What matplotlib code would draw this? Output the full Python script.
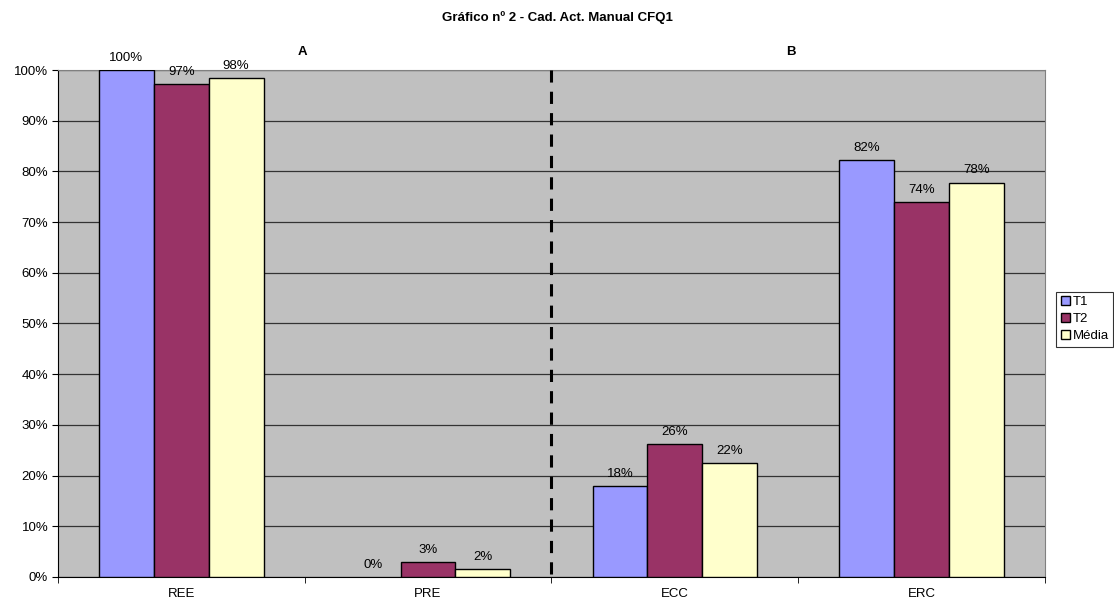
import numpy as np
import matplotlib.pyplot as plt

plt.rcParams['font.family'] = ['Liberation Sans', 'DejaVu Sans']

categories = ["REE", "PRE", "ECC", "ERC"]
t1 = [1.00, 0.00, 0.180, 0.822]
t2 = [0.972, 0.030, 0.262, 0.740]
media = [0.984, 0.016, 0.224, 0.778]
labels_t1 = ["100%", "0%", "18%", "82%"]
labels_t2 = ["97%", "3%", "26%", "74%"]
labels_media = ["98%", "2%", "22%", "78%"]
series_names = ["T1", "T2", "Média"]
colors = ["#9999FF", "#993366", "#FFFFCC"]

fig = plt.figure(figsize=(11.14, 6.01), dpi=100)
ax = fig.add_axes([0.052, 0.040, 0.886, 0.8435])
ax.set_facecolor("#C0C0C0")

x = np.arange(len(categories))
w = 1 / 4.5
series = [t1, t2, media]
labs = [labels_t1, labels_t2, labels_media]
for k, (vals, lab) in enumerate(zip(series, labs)):
    pos = x + (k - 1) * w
    lw = [1.0 if v > 0 else 0 for v in vals]
    ax.bar(pos, vals, width=w, color=colors[k], edgecolor="black", linewidth=lw,
           label=series_names[k], zorder=3)
    for p, v, s in zip(pos, vals, lab):
        ax.text(p, v + 0.012, s, ha="center", va="bottom", fontsize=9.5, zorder=4)

ax.set_xlim(-0.5, 3.5)
ax.set_ylim(0, 1)
ax.set_yticks(np.arange(0, 1.01, 0.1))
ax.set_yticklabels([f"{int(round(v*100))}%" for v in np.arange(0, 1.01, 0.1)], fontsize=9.5)
ax.yaxis.grid(True, color="#333333", linewidth=0.9, zorder=0)
ax.set_axisbelow(True)

ax.set_xticks(x)
ax.set_xticklabels(categories, fontsize=9.5)
ax.tick_params(axis="x", length=0, pad=8)
ax.set_xticks(np.arange(-0.5, 3.6, 1), minor=True)
ax.tick_params(axis="x", which="minor", length=4, direction="out", color="black")
ax.tick_params(axis="y", length=4, direction="out", color="black", pad=3)

for s in ["top", "right"]:
    ax.spines[s].set_color("#808080")
for s in ["left", "bottom"]:
    ax.spines[s].set_color("black")

ax.axvline(1.5, ymin=0.005, ymax=1, color="black", linestyle=(0, (4, 3)), linewidth=2.2, zorder=5)

ax.text(0.49, 1.035, "A", transform=ax.get_xaxis_transform(),
        ha="center", va="center", fontsize=9.5, fontweight="bold")
ax.text(2.47, 1.035, "B", transform=ax.get_xaxis_transform(),
        ha="center", va="center", fontsize=9.5, fontweight="bold")

fig.text(0.5, 0.971, "Gráfico nº 2 - Cad. Act. Manual CFQ1", ha="center", va="center",
         fontsize=9.5, fontweight="bold")

leg = fig.legend(loc="center left", bbox_to_anchor=(0.948, 0.469), fontsize=9.5,
                 frameon=True, fancybox=False, edgecolor="black", handlelength=0.7,
                 handleheight=0.7, handletextpad=0.2, borderpad=0.35, labelspacing=0.35,
                 borderaxespad=0)
leg.get_frame().set_linewidth(0.8)

fig.savefig("out.png", dpi=100)
